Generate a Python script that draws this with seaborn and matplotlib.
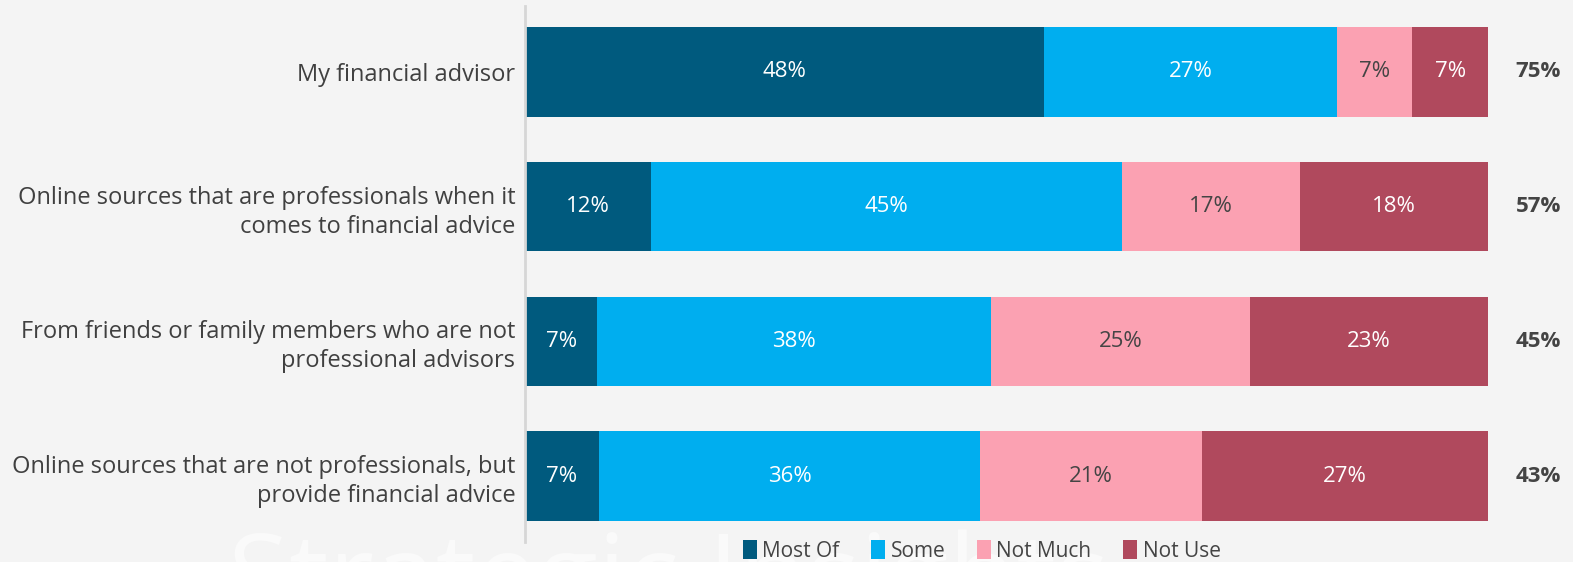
import numpy as np
import pandas as pd
import matplotlib
matplotlib.use("Agg")
import matplotlib.pyplot as plt
import seaborn as sns

categories = [
    "My financial advisor",
    "Online sources that are professionals when it\ncomes to financial advice",
    "From friends or family members who are not\nprofessional advisors",
    "Online sources that are not professionals, but\nprovide financial advice",
]
series_names = ["Most Of", "Some", "Not Much", "Not Use"]
most_of = [48, 12, 7, 7]
some = [27, 45, 38, 36]
not_much = [7, 17, 25, 21]
not_use = [7, 18, 23, 27]
totals = [75, 57, 45, 43]

colors = ["#005a7e", "#00aeef", "#fba1b2", "#b0495d"]
text_colors = ["white", "white", "#444444", "white"]

sns.set_theme(style="white")
plt.rcParams["font.family"] = ["Open Sans", "DejaVu Sans"]

values = np.array([most_of, some, not_much, not_use], dtype=float)
shares = values / values.sum(axis=0)

W, H = 1573, 562
fig = plt.figure(figsize=(15.73, 5.62), dpi=100)
bg = "#f4f4f4"
fig.patch.set_facecolor(bg)
ax = fig.add_axes([525 / W, 1 - 542 / H, (1488 - 525) / W, (542 - 6) / H])
ax.set_facecolor("none")
ax.set_zorder(2)

rows = []
for i, cat in enumerate(categories):
    for j, s in enumerate(series_names):
        rows.append({"category": cat, "series": s, "share": shares[j, i],
                     "label": values[j, i]})
df = pd.DataFrame(rows)

left = np.zeros(len(categories))
for j, s in enumerate(series_names):
    sub = df[df["series"] == s]
    ax.barh(np.arange(len(categories)), sub["share"].values, left=left,
            height=0.665, color=colors[j], label=s, edgecolor="none")
    for i, (w, lab) in enumerate(zip(sub["share"].values, sub["label"].values)):
        ax.text(left[i] + w / 2, i, f"{lab:.0f}%", ha="center", va="center",
                fontsize=16, color=text_colors[j])
    left += sub["share"].values

for i, t in enumerate(totals):
    ax.text(1.052, i, f"{t}%", ha="center", va="center", fontsize=16,
            fontweight="bold", color="#444444", transform=ax.get_yaxis_transform())

ax.set_xlim(0, 1)
ax.set_ylim(3.49, -0.49)
ax.set_yticks(np.arange(len(categories)))
ax.set_yticklabels(categories, fontsize=17, color="#404040", ha="right",
                   multialignment="right", linespacing=1.27)
ax.tick_params(axis="y", length=0, pad=7)
ax.set_xticks([])
for sp in ["top", "right", "bottom"]:
    ax.spines[sp].set_visible(False)
ax.spines["left"].set_color("#d6d6d6")
ax.spines["left"].set_linewidth(2)

# faint watermark
fig.text(0.145, -0.14, "Strategic Insights", fontsize=80, color="white",
         alpha=0.55, ha="left", va="bottom", zorder=0)

leg = fig.legend(loc="center", bbox_to_anchor=(0.624, 1 - 551 / H), ncol=4,
                 frameon=False, fontsize=15, handlelength=0.7, handleheight=1.0,
                 handletextpad=0.25, columnspacing=1.5,
                 labelcolor="#444444")
leg.set_zorder(3)

fig.savefig("out.png", dpi=100, facecolor=bg)
